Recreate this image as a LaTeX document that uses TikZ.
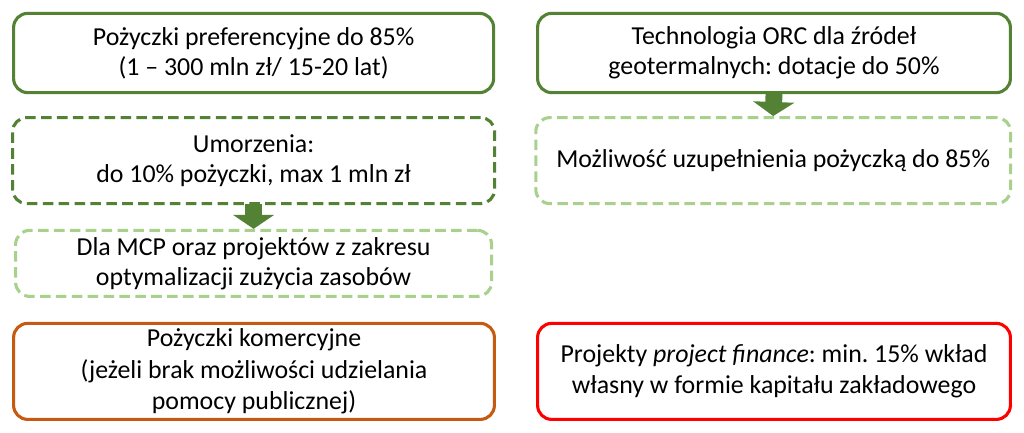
\documentclass[tikz,border=0pt]{standalone}
\usepackage{fontspec}
\setmainfont{Carlito}
\usepackage{tikz}
\usetikzlibrary{arrows.meta}
\definecolor{darkgreen}{HTML}{548235}
\definecolor{lightgreen}{HTML}{A9D18E}
\definecolor{rust}{HTML}{C55A11}
\definecolor{brightred}{HTML}{FF0000}
\frenchspacing

\begin{document}
\begin{tikzpicture}[
	box/.style={draw, rectangle, rounded corners=10pt, line width=2.2pt, align=center,
		font=\fontsize{18.4}{21.4}\selectfont, inner sep=2pt},
	dashbox/.style={box, dash pattern=on 7.5pt off 3.8pt},
	blockarrow/.style={darkgreen, line width=12pt, -{Triangle[width=29pt, length=10pt]}, shorten <=-1pt}
	]
	\useasboundingbox (0,0) rectangle (25.6,10.825);
	% left column
	\node[box, draw=darkgreen, minimum width=12.0cm, minimum height=1.98cm] (pref) at (6.34,9.5)
		{Pożyczki preferencyjne do 85\%\\(1 – 300 mln zł/ 15-20 lat)};
	\node[dashbox, draw=darkgreen, minimum width=12.05cm, minimum height=2.15cm] (umorz) at (6.34,6.81)
		{Umorzenia:\\do 10\% pożyczki, max 1 mln zł};
	\node[dashbox, draw=lightgreen, minimum width=11.9cm, minimum height=1.65cm] (mcp) at (6.34,4.24)
		{Dla MCP oraz projektów z zakresu\\optymalizacji zużycia zasobów};
	\node[box, draw=rust, minimum width=12.02cm, minimum height=2.4cm,
		font=\fontsize{18.4}{22.2}\selectfont] (komerc) at (6.35,1.54)
		{Pożyczki komercyjne\\(jeżeli brak możliwości udzielania\\pomocy publicznej)};
	% right column
	\node[box, draw=darkgreen, minimum width=11.82cm, minimum height=1.98cm] (orc) at (19.35,9.5)
		{Technologia ORC dla źródeł\\geotermalnych: dotacje do 50\%};
	\node[dashbox, draw=lightgreen, minimum width=11.87cm, minimum height=2.15cm] (uzup) at (19.33,6.81)
		{Możliwość uzupełnienia pożyczką do 85\%};
	\node[box, draw=brightred, minimum width=11.82cm, minimum height=2.4cm,
		font=\fontsize{18.4}{22.2}\selectfont] (projfin) at (19.35,1.54)
		{Projekty \textit{project finance}: min. 15\% wkład\\własny w formie kapitału zakładowego};
	% arrows
	\draw[blockarrow] (umorz.south) -- (mcp.north);
	\draw[blockarrow] (orc.south) -- (uzup.north);
\end{tikzpicture}
\end{document}
